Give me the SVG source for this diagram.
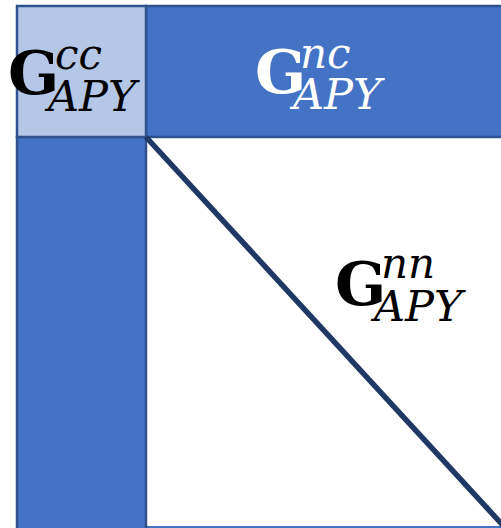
<svg xmlns="http://www.w3.org/2000/svg" width="501" height="528" viewBox="0 0 501 528">
<style>
.blk{fill:#4472C4;stroke:#2F528F;stroke-width:2.5}
.lt{fill:#B4C7E7;stroke:#2F528F;stroke-width:2.5}
.G{font-family:"DejaVu Serif",serif;font-weight:bold;font-size:60px}
.it{font-family:"DejaVu Serif",serif;font-style:italic;font-size:43px}
.sup{font-family:"DejaVu Serif",serif;font-style:italic;font-size:42px}
</style>
<rect width="501" height="528" fill="#FFFFFF"/>
<g id="white-block">
<rect x="146" y="137" width="380" height="390" fill="#FFFFFF" stroke="#4472C4" stroke-width="2"/>
</g>
<g id="top-block">
<rect class="blk" x="146" y="6" width="380" height="131"/>
</g>
<g id="left-block">
<rect class="blk" x="17" y="137" width="129" height="400"/>
</g>
<g id="corner-block">
<rect class="lt" x="17" y="6" width="129" height="131"/>
</g>
<g id="connectors">
<line x1="146" y1="137" x2="510" y2="533" stroke="#203864" stroke-width="5.5"/>
</g>
<g id="label-cc" fill="#000000">
<text class="G" x="8" y="94">G</text>
<text class="sup" x="55" y="69">cc</text>
<text class="it" x="48" y="111">APY</text>
</g>
<g id="label-nc" fill="#FFFFFF">
<text class="G" x="255" y="93">G</text>
<text class="sup" x="300" y="68">nc</text>
<text class="it" x="293" y="109">APY</text>
</g>
<g id="label-nn" fill="#000000">
<text class="G" x="335" y="305">G</text>
<text class="sup" x="381" y="278">nn</text>
<text class="it" x="374" y="321">APY</text>
</g>
</svg>
